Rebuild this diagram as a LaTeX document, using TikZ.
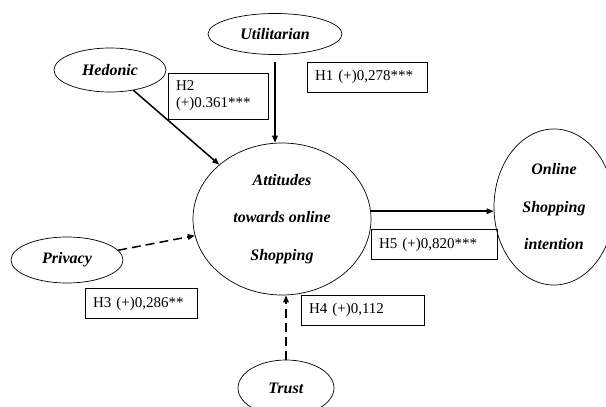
\documentclass[tikz,border=0pt]{standalone}
\usepackage{fontspec}
\setmainfont{Liberation Serif}
\usepackage{tikz}
\usetikzlibrary{arrows.meta,positioning,shapes.geometric}
\newcommand{\lv}[1]{\textbf{\textit{#1}}}

\begin{document}
\begin{tikzpicture}[x=1pt, y=-1pt,
  every node/.style={font=\fontsize{15}{17}\selectfont},
  construct/.style={draw, ellipse, line width=0.7pt, inner sep=0pt, align=center, font=\fontsize{16}{37.5}\selectfont},
  coef/.style={draw, line width=0.7pt, inner xsep=8pt, inner ysep=0pt, minimum height=30pt, align=left},
  path/.style={-{Triangle[length=7pt, width=5.5pt]}, line width=1.5pt},
  weak/.style={path, dash pattern=on 9pt off 5pt}]
  \useasboundingbox (0,0) rectangle (606,407);
  \node[construct, minimum width=134pt, minimum height=41pt] (util) at (275,34) {\lv{Utilitarian}};
  \node[construct, minimum width=112pt, minimum height=44pt] (hed) at (110,70) {\lv{Hedonic}};
  \node[construct, minimum width=112pt, minimum height=46pt] (priv) at (67,260) {\lv{Privacy}};
  \node[construct, minimum width=96pt, minimum height=56pt] (trust) at (286,388) {\lv{Trust}};
  \node[construct, minimum width=178pt, minimum height=152pt] (att) at (282,219) {\lv{Attitudes}\\\lv{towards online}\\\lv{Shopping}};
  \node[construct, minimum width=120pt, minimum height=156pt] (osi) at (554,207) {\lv{Online}\\\lv{Shopping}\\\lv{intention}};
  \node[coef, text width=84pt, minimum height=46pt] (h2) at (218,96) {H2\\(+)0.361***};
  \node[coef, text width=104pt] (h1) at (367,77) {H1 (+)0,278***};
  \node[coef, text width=110pt] (h5) at (434,244.5) {H5 (+)0,820***};
  \node[coef, text width=96pt] (h3) at (141,303.5) {H3 (+)0,286**};
  \node[coef, text width=107pt] (h4) at (362.5,310) {H4 (+)0,112};
  \draw[path, shorten <=7pt] (util.south) -- (util.south |- att.north);
  \draw[path] (hed) -- (att);
  \draw[weak] (priv) -- (att);
  \draw[weak] (trust.north) -- (trust.north |- att.south);
  \draw[path] (att.5) -- (osi.west |- att.5);
\end{tikzpicture}
\end{document}
